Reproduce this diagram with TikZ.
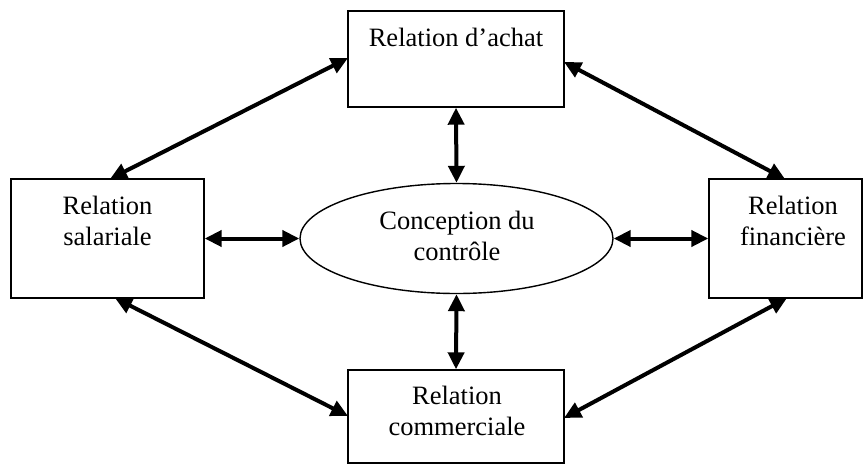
\documentclass[tikz,border=0pt]{standalone}
\usepackage{fontspec}
\setmainfont{Liberation Serif}
\usetikzlibrary{arrows.meta,shapes.geometric}
\begin{document}
\begin{tikzpicture}[x=1pt,y=-1pt,
  relbox/.style={draw,line width=1.4pt,inner sep=0pt},
  label text/.style={font=\fontsize{26.5}{31}\selectfont,align=center,anchor=base,inner sep=0pt},
  link/.style={line width=4pt,{Triangle[length=17pt,width=16pt]}-{Triangle[length=17pt,width=16pt]}}]
\useasboundingbox (0,0) rectangle (867,466);

% boxes and central ellipse
\node[relbox,minimum width=216pt,minimum height=96pt] (achat) at (456,59) {};
\node[relbox,minimum width=193pt,minimum height=119pt] (salariale) at (107.5,238.5) {};
\node[relbox,minimum width=153pt,minimum height=119pt] (financiere) at (785.5,238.5) {};
\node[relbox,minimum width=216pt,minimum height=93pt] (commerciale) at (456,416.5) {};
\node[draw,line width=1.4pt,ellipse,inner sep=0pt,minimum width=313pt,minimum height=110pt] (controle) at (456.5,238.5) {};

% labels (base anchor = baseline of the last line)
\node[label text] (tachat) at (456,46) {Relation d’achat};
\node[label text] (tsal) at (107.5,245) {Relation\\salariale};
\node[label text] (tfin) at (793,245) {Relation\\financière};
\node[label text] (tcom) at (457,435) {Relation\\commerciale};
\node[label text] (tctl) at (457,260) {Conception du\\contrôle};

% end points of the diagonal links
\coordinate (tl1) at (348,58);
\coordinate (tl2) at (110,179);
\coordinate (tr1) at (564,62);
\coordinate (tr2) at (785,179);
\coordinate (bl1) at (115,298);
\coordinate (bl2) at (348,416);
\coordinate (br1) at (564,418);
\coordinate (br2) at (787,298);

% links
\draw[link] (achat.south) -- (controle.north);
\draw[link] (controle.south) -- (commerciale.north);
\draw[link] (salariale.east) -- (controle.west);
\draw[link] (controle.east) -- (financiere.west);
\draw[link] (tl1) -- (tl2);
\draw[link] (tr1) -- (tr2);
\draw[link] (bl1) -- (bl2);
\draw[link] (br1) -- (br2);
\end{tikzpicture}
\end{document}
